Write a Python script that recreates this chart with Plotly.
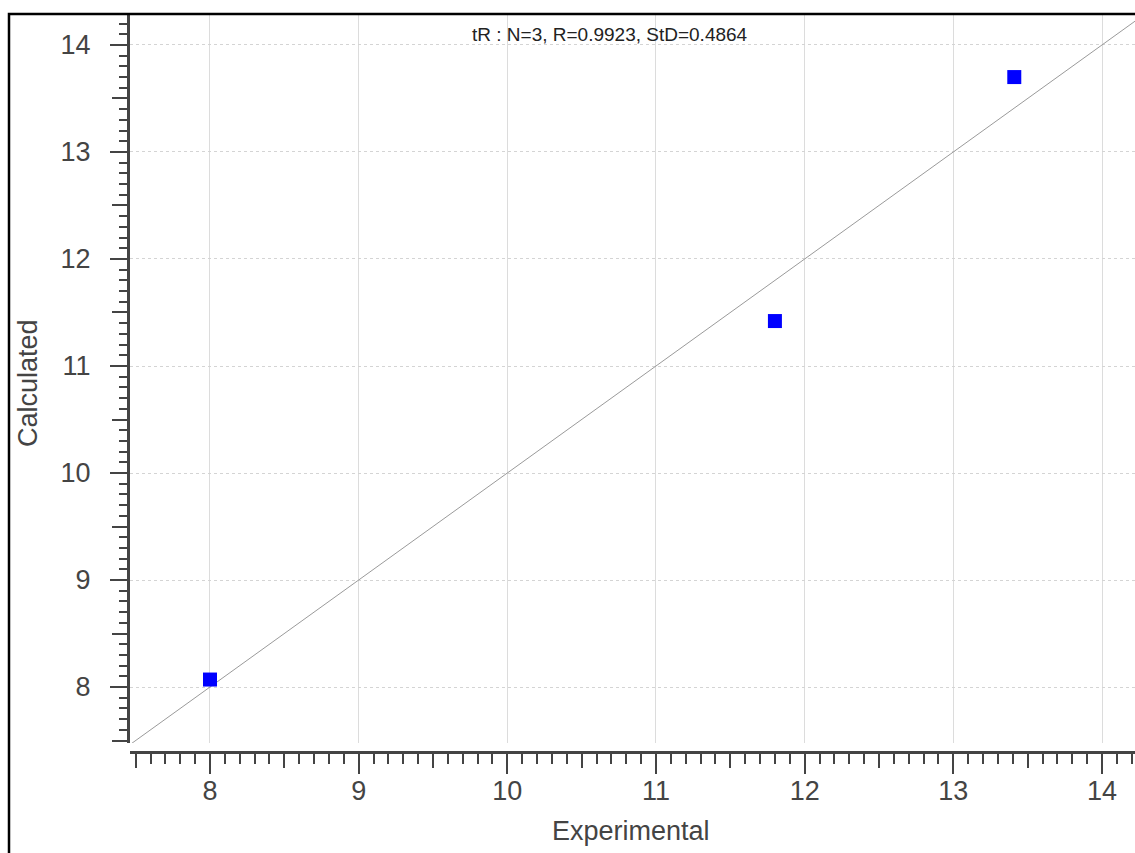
import plotly.graph_objects as go

# Data
experimental = [8.00, 11.80, 13.41]
calculated = [8.07, 11.42, 13.70]
identity_line = [7.0, 15.0]
stats_text = "tR : N=3, R=0.9923, StD=0.4864"
x_title = "Experimental"
y_title = "Calculated"
x_range = [7.462, 14.222]
y_range = [7.477, 14.28]

FONT = "Liberation Sans, Arial, sans-serif"
AX = "#444444"
Y_DOMAIN = [(752 - 743) / 737, 1]

fig = go.Figure()
# y = x reference line (subplot with the gridline axes)
fig.add_trace(go.Scatter(x=identity_line, y=identity_line, mode="lines",
                         line=dict(color="#9a9a9a", width=1), hoverinfo="skip",
                         showlegend=False, xaxis="x", yaxis="y"))
# data points (on the visible, offset x axis)
fig.add_trace(go.Scatter(x=experimental, y=calculated, mode="markers",
                         marker=dict(symbol="square", size=14, color="#0000FF",
                                     line=dict(width=0)),
                         showlegend=False, xaxis="x2", yaxis="y"))
# empty placeholder so the half-unit tick axes are drawn
fig.add_trace(go.Scatter(x=[None], y=[None], mode="markers", hoverinfo="skip",
                         showlegend=False, xaxis="x3", yaxis="y2"))

common_minor = dict(ticks="outside", tickwidth=2, tickcolor=AX, showgrid=False)

fig.update_layout(
    width=1135, height=853,
    margin=dict(l=130, r=0, t=15, b=101),
    paper_bgcolor="white", plot_bgcolor="white",
    font=dict(family=FONT, color=AX),
    hovermode=False,
    # main x axis: only provides the vertical gridlines over the y domain
    xaxis=dict(range=x_range, anchor="y",
               tickmode="linear", tick0=0, dtick=1,
               ticks="", showticklabels=False, showline=False,
               showgrid=True, gridcolor="#dcdcdc", gridwidth=1,
               zeroline=False),
    # visible x axis line, ticks and labels, set slightly below the plot
    xaxis2=dict(range=x_range, overlaying="x", anchor="free", position=0,
                tickmode="linear", tick0=0, dtick=1,
                ticks="outside", ticklen=20, tickwidth=2, tickcolor=AX,
                showline=True, linecolor=AX, linewidth=3,
                showgrid=False, zeroline=False,
                tickfont=dict(size=27, color=AX), ticklabelstandoff=-6,
                minor=dict(tick0=0, dtick=0.1, ticklen=10, **common_minor)),
    # medium ticks at the halves
    xaxis3=dict(range=x_range, overlaying="x", anchor="free", position=0,
                tickmode="linear", tick0=0.5, dtick=1, ticks="outside",
                ticklen=15, tickwidth=2, tickcolor=AX, showticklabels=False,
                showgrid=False, showline=False, zeroline=False),
    yaxis=dict(range=y_range, domain=Y_DOMAIN,
               tickmode="linear", tick0=0, dtick=1,
               ticks="outside", ticklen=17, tickwidth=2, tickcolor=AX,
               showline=True, linecolor=AX, linewidth=3,
               showgrid=True, gridcolor="#d4d4d4", gridwidth=1, griddash="dot",
               zeroline=False, tickfont=dict(size=27, color=AX),
               ticklabelstandoff=14,
               minor=dict(tick0=0, dtick=0.1, ticklen=8, **common_minor)),
    yaxis2=dict(range=y_range, overlaying="y", domain=Y_DOMAIN,
                anchor="x3", tickmode="linear", tick0=0.5, dtick=1,
                ticks="outside", ticklen=17, tickwidth=2, tickcolor=AX,
                showticklabels=False, showgrid=False, showline=False,
                zeroline=False),
)

fig.add_annotation(text=stats_text, xref="paper", yref="paper",
                   x=(610 - 130) / 1005, y=(752 - 35) / 737, showarrow=False,
                   font=dict(size=19, color="#222222", family=FONT),
                   xanchor="center", yanchor="middle")
fig.add_annotation(text=x_title, xref="paper", yref="paper",
                   x=0.4985, y=(752 - 831) / 737, showarrow=False,
                   font=dict(size=27, color=AX, family=FONT),
                   xanchor="center", yanchor="middle")
fig.add_annotation(text=y_title, xref="paper", yref="paper",
                   x=(28 - 130) / 1005, y=(752 - 383) / 737, showarrow=False,
                   textangle=-90,
                   font=dict(size=27, color=AX, family=FONT),
                   xanchor="center", yanchor="middle")

# outer frame (left and top edges visible in the reference)
fig.add_shape(type="rect", xref="paper", yref="paper",
              x0=(9 - 130) / 1005, x1=1.2, y0=-0.5, y1=(752 - 14) / 737,
              line=dict(color="black", width=2.5), fillcolor="rgba(0,0,0,0)")

fig.write_html("out.html", config={"displayModeBar": False},
               post_script="document.body.style.margin='0';"
                           "document.body.style.padding='0';")
